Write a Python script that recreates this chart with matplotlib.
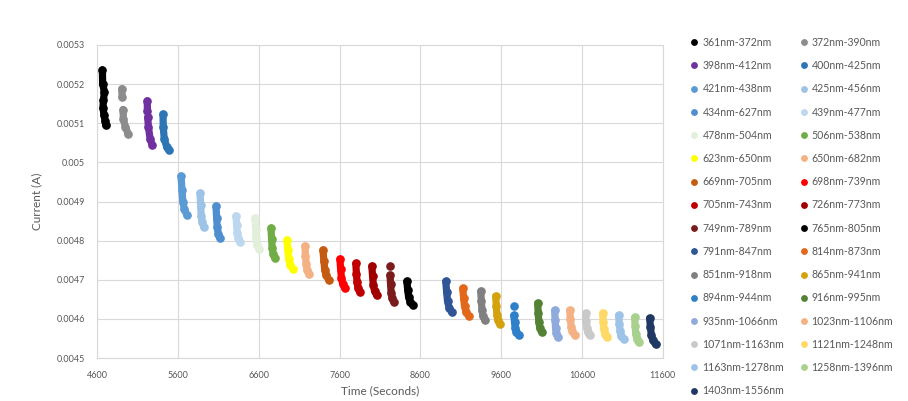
import numpy as np
import matplotlib.pyplot as plt

# wavelength band of each measurement run
labels = ["361nm-372nm", "372nm-390nm", "398nm-412nm", "400nm-425nm", "421nm-438nm",
          "425nm-456nm", "434nm-627nm", "439nm-477nm", "478nm-504nm", "506nm-538nm",
          "623nm-650nm", "650nm-682nm", "669nm-705nm", "698nm-739nm", "705nm-743nm",
          "726nm-773nm", "749nm-789nm", "765nm-805nm", "791nm-847nm", "814nm-873nm",
          "851nm-918nm", "865nm-941nm", "894nm-944nm", "916nm-995nm", "935nm-1066nm",
          "1023nm-1106nm", "1071nm-1163nm", "1121nm-1248nm", "1163nm-1278nm",
          "1258nm-1396nm", "1403nm-1556nm"]

colors = ["#000000", "#8c8c8c", "#7030a0", "#2e75b6", "#5b9bd5",
          "#9dc3e6", "#4f8fd0", "#bdd7ee", "#e2efda", "#70ad47",
          "#ffff00", "#f4b183", "#c55a11", "#ff0000", "#c00000",
          "#a00000", "#7b1c1c", "#000000", "#2f5597", "#e2681a",
          "#808080", "#d4a20c", "#2e80c8", "#548235", "#8faadc",
          "#f4b183", "#c9c9c9", "#ffd966", "#9dc3e6", "#a9d18e", "#1f3864"]

nan = float("nan")

# time (s) and current (A) read from each run; nan marks a gap in a run
times = [
    [4665, 4668, 4690, 4678, 4672, 4685, 4700, 4705],
    [4905, 4908, nan, 4920, 4925, 4950, 4985],
    [5220, 5222, nan, 5225, 5235, 5255, 5280],
    [5415, 5418, 5430, 5460, 5490],
    [5638, 5649, 5660, 5679, 5712],
    [5873, 5880, 5888, 5900, 5923],
    [6071, 6078, 6086, 6098, 6120],
    [6318, 6326, 6333, 6346, 6368],
    [6553, 6560, 6568, 6580, 6602],
    [6751, 6758, 6766, 6778, 6800],
    [6949, 6960, 6971, 6990, 7023],
    [7171, 7178, 7186, 7198, 7220],
    [7394, 7405, 7416, 7435, 7468],
    [7604, 7613, 7623, 7638, 7666],
    [7801, 7808, 7816, 7828, 7851],
    [7999, 8008, 8018, 8033, 8061],
    [8222, nan, 8224, 8231, 8238, 8250, 8271],
    [8432, 8443, 8454, 8473, 8506],
    [8914, 8925, 8936, 8955, 8988],
    [9124, 9135, 9146, 9165, 9198],
    [9347, 9354, 9362, 9374, 9396],
    [9532, 9539, 9547, 9559, 9581],
    [9754, nan, 9756, 9765, 9774, 9789, 9816],
    [10051, 10058, 10066, 10078, 10101],
    [10261, 10267, 10272, 10281, 10298],
    [10447, 10456, 10466, 10481, 10509],
    [10644, 10652, 10659, 10672, 10694],
    [10855, 10862, 10870, 10882, 10904],
    [11052, 11061, 11071, 11086, 11114],
    [11250, 11258, 11265, 11278, 11300],
    [11436, 11447, 11458, 11477, 11510],
]

currents = [
    [0.005236, 0.005200, 0.005180, 0.005160, 0.005140, 0.005120, 0.005105, 0.005095],
    [0.005188, 0.005168, nan, 0.005135, 0.005110, 0.005090, 0.005072],
    [0.005157, 0.005130, nan, 0.005115, 0.005090, 0.005060, 0.005045],
    [0.005123, 0.005090, 0.005060, 0.005040, 0.005031],
    [0.004965, 0.004930, 0.004900, 0.004880, 0.004865],
    [0.004921, 0.004890, 0.004864, 0.004847, 0.004834],
    [0.004888, 0.004859, 0.004835, 0.004818, 0.004806],
    [0.004863, 0.004840, 0.004819, 0.004806, 0.004796],
    [0.004857, 0.004830, 0.004806, 0.004790, 0.004778],
    [0.004832, 0.004805, 0.004782, 0.004767, 0.004755],
    [0.004801, 0.004775, 0.004753, 0.004738, 0.004727],
    [0.004786, 0.004761, 0.004740, 0.004725, 0.004714],
    [0.004776, 0.004749, 0.004726, 0.004711, 0.004699],
    [0.004753, 0.004727, 0.004704, 0.004690, 0.004678],
    [0.004742, 0.004716, 0.004694, 0.004679, 0.004668],
    [0.004735, 0.004709, 0.004686, 0.004671, 0.004660],
    [0.004735, nan, 0.004712, 0.004688, 0.004667, 0.004653, 0.004643],
    [0.004696, 0.004675, 0.004656, 0.004644, 0.004635],
    [0.004696, 0.004668, 0.004645, 0.004629, 0.004617],
    [0.004678, 0.004653, 0.004632, 0.004618, 0.004607],
    [0.004671, 0.004645, 0.004623, 0.004608, 0.004597],
    [0.004658, 0.004633, 0.004611, 0.004597, 0.004586],
    [0.004632, nan, 0.004609, 0.004591, 0.004576, 0.004566, 0.004558],
    [0.004640, 0.004614, 0.004592, 0.004577, 0.004566],
    [0.004622, 0.004598, 0.004577, 0.004563, 0.004553],
    [0.004622, 0.004600, 0.004580, 0.004568, 0.004558],
    [0.004614, 0.004594, 0.004578, 0.004566, 0.004558],
    [0.004614, 0.004593, 0.004574, 0.004562, 0.004553],
    [0.004609, 0.004588, 0.004569, 0.004557, 0.004548],
    [0.004604, 0.004582, 0.004562, 0.004550, 0.004540],
    [0.004602, 0.004579, 0.004558, 0.004545, 0.004535],
]

x_ticks = [4600, 5600, 6600, 7600, 8600, 9600, 10600, 11600]
y_ticks = [0.0045, 0.0046, 0.0047, 0.0048, 0.0049, 0.005, 0.0051, 0.0052, 0.0053]
y_tick_labels = ["0.0045", "0.0046", "0.0047", "0.0048", "0.0049", "0.005",
                 "0.0051", "0.0052", "0.0053"]

plt.rcParams['font.family'] = ['Lato', 'DejaVu Sans']
text_gray = "#595959"
grid_gray = "#d9d9d9"

fig = plt.figure(figsize=(9.08, 4.01), dpi=100)
ax = fig.add_axes([0.107, 0.107, 0.623, 0.781])

handles = []
for t, c, col, lab in zip(times, currents, colors, labels):
    ax.plot(t, c, color=col, linewidth=5.2, solid_capstyle='round',
            solid_joinstyle='round', zorder=3)
    h, = ax.plot(t, c, linestyle='none', marker='o', markersize=5.2,
                 color=col, label=lab, zorder=3)
    handles.append(h)

ax.set_xlim(4600, 11600)
ax.set_ylim(0.0045, 0.0053)
ax.set_xticks(x_ticks)
ax.set_yticks(y_ticks)
ax.set_yticklabels(y_tick_labels)
ax.grid(True, color=grid_gray, linewidth=0.8)
ax.set_axisbelow(True)
for s in ax.spines.values():
    s.set_color(grid_gray)
    s.set_linewidth(0.8)
ax.tick_params(length=0, labelsize=6.5, labelcolor=text_gray, pad=9)
ax.set_xlabel("Time (Seconds)", fontsize=8.5, color=text_gray, labelpad=4)
ax.set_ylabel("Current (A)", fontsize=8.5, color=text_gray, labelpad=10)

# legend reads row by row, matplotlib fills column by column
order = list(range(0, len(handles), 2)) + list(range(1, len(handles), 2))
fig.legend([handles[i] for i in order], [labels[i] for i in order],
           loc='upper left', bbox_to_anchor=(0.752, 0.932), ncol=2,
           frameon=False, fontsize=7.6, labelcolor=text_gray,
           markerscale=0.75, handlelength=0.4, handletextpad=0.55,
           columnspacing=1.64, labelspacing=1.16)

fig.savefig("out.png", dpi=100)
